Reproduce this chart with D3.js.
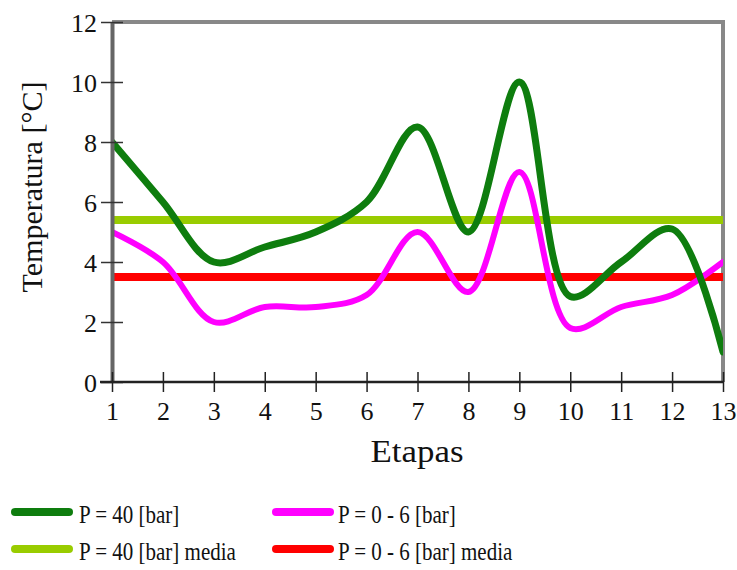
<!DOCTYPE html>
<html>
<head>
<meta charset="utf-8">
<script src="https://cdn.jsdelivr.net/npm/d3@7"></script>
<style>
  body { margin: 0; background: #fff; }
  text { font-family: "Liberation Serif", "Times New Roman", serif; fill: #111; }
</style>
</head>
<body>
<script>
//etapas (x categories)
var etapas = [1, 2, 3, 4, 5, 6, 7, 8, 9, 10, 11, 12, 13];
//temperatures per etapa
var p40 = [8, 6, 4, 4.5, 5, 6, 8.5, 5, 10, 2.85, 4, 5.1, 1];
var p06 = [5, 4, 2, 2.5, 2.5, 2.9, 5, 3, 7, 1.8, 2.5, 2.9, 4];
//mean values
var p40Media = 5.4;
var p06Media = 3.5;
var yTicks = [0, 2, 4, 6, 8, 10, 12];
var legendLabels = ["P = 40 [bar]", "P = 0 - 6 [bar]", "P = 40 [bar] media", "P = 0 - 6 [bar] media"];

var width = 737,
    height = 570;

var svg = d3.select("body")
    .append("svg")
    .attr("width", width)
    .attr("height", height);

var x = d3.scaleLinear().domain([1, 13]).range([112, 723]);
var y = d3.scaleLinear().domain([0, 12]).range([382, 22]);

var colors = {
    p40: "#0e7d0e",
    p06: "#ff00ff",
    p40m: "#99cc00",
    p06m: "#ff0000"
};

//clip to plot area
svg.append("clipPath").attr("id", "plot")
    .append("rect")
    .attr("x", x(1)).attr("y", y(12))
    .attr("width", x(13) - x(1)).attr("height", y(0) - y(12));

//frame: top and right in gray
svg.append("path")
    .attr("d", "M" + x(1) + "," + y(12) + "H" + x(13) + "V" + y(0))
    .attr("fill", "none")
    .attr("stroke", "#888")
    .attr("stroke-width", 4);

//mean lines
svg.append("line")
    .attr("x1", x(1)).attr("x2", x(13))
    .attr("y1", y(p40Media)).attr("y2", y(p40Media))
    .attr("stroke", colors.p40m).attr("stroke-width", 8);

svg.append("line")
    .attr("x1", x(1)).attr("x2", x(13))
    .attr("y1", y(p06Media)).attr("y2", y(p06Media))
    .attr("stroke", colors.p06m).attr("stroke-width", 8);

//smoothed series
var line = d3.line()
    .x(function(d, i){ return x(etapas[i]); })
    .y(function(d){ return y(d); })
    .curve(d3.curveCatmullRom.alpha(0.5));

svg.append("path")
    .datum(p06)
    .attr("d", line)
    .attr("fill", "none")
    .attr("stroke", colors.p06)
    .attr("stroke-width", 6)
    .attr("stroke-linecap", "round")
    .attr("clip-path", "url(#plot)");

svg.append("path")
    .datum(p40)
    .attr("d", line)
    .attr("fill", "none")
    .attr("stroke", colors.p40)
    .attr("stroke-width", 7)
    .attr("stroke-linecap", "round")
    .attr("clip-path", "url(#plot)");

//left axis
var yAxis = svg.append("g")
    .attr("transform", "translate(" + x(1) + ",0)")
    .call(d3.axisLeft(y).tickValues(yTicks).tickSize(0).tickPadding(15));
yAxis.select(".domain").attr("stroke", "#666").attr("stroke-width", 4);
yAxis.selectAll(".tick line").attr("x1", -11).attr("x2", 11).attr("stroke", "#333").attr("stroke-width", 1.5);
yAxis.selectAll(".tick text")
    .attr("font-size", 26)
    .attr("dy", "0.35em")
    .attr("font-family", "Liberation Serif");

//bottom axis
var xAxis = svg.append("g")
    .attr("transform", "translate(0," + y(0) + ")")
    .call(d3.axisBottom(x).tickValues(etapas).tickFormat(d3.format("d")).tickSize(0).tickPadding(20));
xAxis.select(".domain").attr("stroke", "#222").attr("stroke-width", 2.5)
    .attr("d", "M" + (x(1) - 12) + ",0H" + x(13));
xAxis.selectAll(".tick line").attr("y1", -10).attr("y2", 10).attr("stroke", "#222").attr("stroke-width", 1.5);
xAxis.selectAll(".tick text")
    .attr("font-size", 26)
    .attr("font-family", "Liberation Serif");

//axis titles
svg.append("text")
    .attr("transform", "translate(42,187) rotate(-90)")
    .attr("text-anchor", "middle")
    .attr("font-size", 30)
    .attr("textLength", 211)
    .attr("lengthAdjust", "spacingAndGlyphs")
    .text("Temperatura [°C]");

svg.append("text")
    .attr("x", 417)
    .attr("y", 462)
    .attr("text-anchor", "middle")
    .attr("font-size", 32)
    .attr("textLength", 93)
    .attr("lengthAdjust", "spacingAndGlyphs")
    .text("Etapas");

//legend
var legendColors = [colors.p40, colors.p06, colors.p40m, colors.p06m];
var legend = svg.selectAll(".legend")
    .data(legendLabels)
    .enter()
    .append("g")
    .attr("class", "legend")
    .attr("transform", function(d, i){
        return "translate(" + (i % 2 === 0 ? 15 : 276) + "," + (i < 2 ? 512 : 549) + ")";
    });

legend.append("line")
    .attr("x1", 0).attr("x2", 54)
    .attr("y1", 0).attr("y2", 0)
    .attr("stroke", function(d, i){ return legendColors[i]; })
    .attr("stroke-width", 8)
    .attr("stroke-linecap", "round");

//legend text is drawn narrow, like the original
var legendText = legend.append("text")
    .attr("x", function(d, i){ return i % 2 === 0 ? 64 : 62; })
    .attr("y", 11)
    .attr("font-size", 25)
    .text(function(d){ return d; });

legendText.each(function(){
    var w = this.getComputedTextLength();
    d3.select(this)
        .attr("textLength", w * 0.84)
        .attr("lengthAdjust", "spacingAndGlyphs");
});
</script>
</body>
</html>
